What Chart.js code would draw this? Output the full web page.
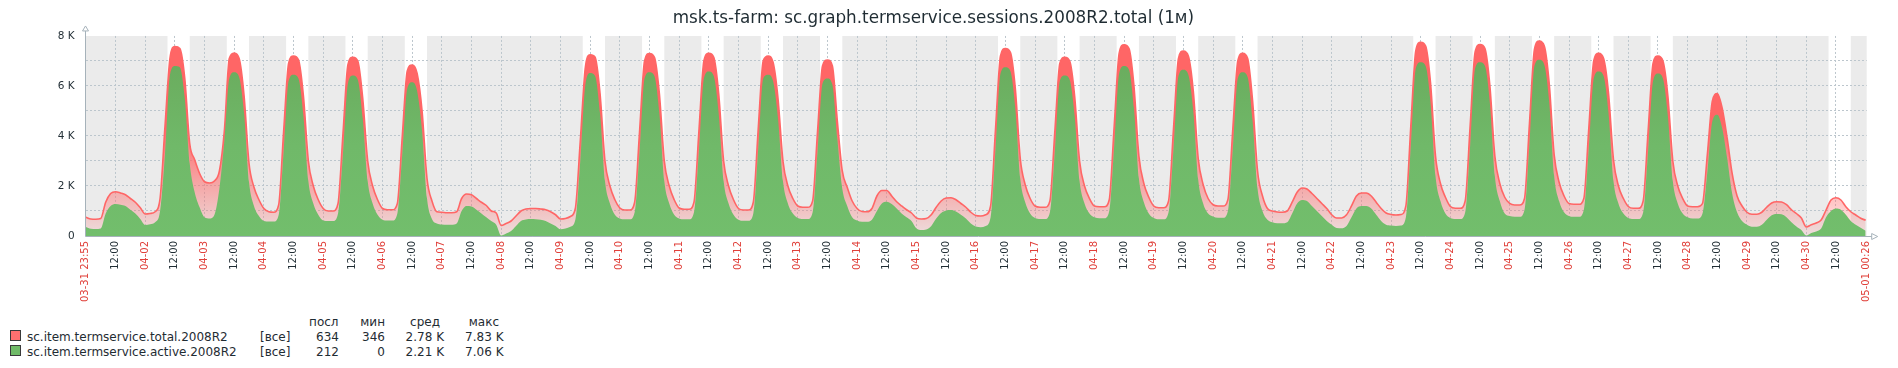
<!DOCTYPE html>
<html>
<head>
<meta charset="utf-8">
<script src="https://cdn.jsdelivr.net/npm/chart.js@4.4.1/dist/chart.umd.min.js"></script>
<style>
  html, body { margin: 0; padding: 0; background: #fff; }
  #wrap { position: relative; width: 1898px; height: 368px; overflow: hidden;
          font-family: "DejaVu Sans", sans-serif; color: #1f2c33; }
  #chart { position: absolute; left: 0; top: 0; }
  .lg { position: absolute; font-size: 12px; line-height: 14px; white-space: nowrap; }
  .sw { position: absolute; width: 9px; height: 9px; border: 1px solid #3a3a3a; }
</style>
</head>
<body>
<div id="wrap">
  <canvas id="chart" width="1898" height="312"></canvas>
  <div id="legend"></div>
</div>
<script>
// time axis: hours from 04-01 00:00, one value every 2 hours
const startHour = -5 / 60;          // 03-31 23:55
const endHour = 720 + 26 / 60;      // 05-01 00:26
const slotHours = [0, 2, 4, 6, 8, 10, 12, 14, 16, 18, 20, 22];
const dayLabels = ['04-01', '04-02', '04-03', '04-04', '04-05', '04-06', '04-07', '04-08', '04-09', '04-10',
                   '04-11', '04-12', '04-13', '04-14', '04-15', '04-16', '04-17', '04-18', '04-19', '04-20',
                   '04-21', '04-22', '04-23', '04-24', '04-25', '04-26', '04-27', '04-28', '04-29', '04-30'];
const startLabel = '03-31 23:55';
const endLabel = '05-01 00:26';
const workDays = ['04-02', '04-03', '04-04', '04-05', '04-06', '04-09', '04-10', '04-11', '04-12', '04-13',
                  '04-16', '04-17', '04-18', '04-19', '04-20', '04-23', '04-24', '04-25', '04-26', '04-27', '04-30'];
const workStart = 9, workEnd = 18;

// sessions, thousands (one row per day, 00:00 .. 22:00)
const totalSessions = [
  .75, .68, .67, .70, 1.35, 1.70, 1.77, 1.72, 1.65, 1.50, 1.35, 1.13,
  .88, .90, .97, 1.50, 4.40, 7.10, 7.58, 7.50, 6.30, 3.70, 3.05, 2.50,
  2.17, 2.12, 2.20, 2.60, 4.20, 7.10, 7.32, 7.10, 5.60, 2.90, 1.95, 1.45,
  1.10, .97, .95, 1.25, 4.20, 6.90, 7.20, 7.05, 5.60, 3.00, 2.00, 1.45,
  1.10, 1.00, 1.00, 1.30, 4.10, 6.85, 7.15, 7.00, 5.50, 3.00, 2.00, 1.45,
  1.10, 1.05, 1.05, 1.30, 4.00, 6.60, 6.84, 6.50, 5.00, 2.30, 1.40, .97,
  .95, .93, .93, .97, 1.50, 1.68, 1.65, 1.50, 1.35, 1.22, 1.00, .92,
  .42, .50, .60, .80, 1.00, 1.08, 1.10, 1.10, 1.08, 1.05, .97, .85,
  .68, .70, .78, 1.10, 3.80, 6.70, 7.25, 7.15, 5.70, 3.00, 2.00, 1.45,
  1.12, 1.04, 1.04, 1.35, 4.20, 7.00, 7.30, 7.15, 5.70, 3.00, 2.00, 1.45,
  1.12, 1.07, 1.07, 1.35, 4.20, 7.00, 7.31, 7.15, 5.70, 3.00, 2.00, 1.45,
  1.10, 1.04, 1.04, 1.35, 4.30, 7.00, 7.20, 6.95, 5.50, 3.00, 2.00, 1.50,
  1.20, 1.15, 1.15, 1.40, 4.20, 6.80, 7.04, 6.80, 4.60, 2.60, 1.95, 1.40,
  1.10, .98, .97, 1.10, 1.60, 1.82, 1.82, 1.60, 1.37, 1.20, 1.05, .92,
  .72, .68, .70, .85, 1.15, 1.40, 1.52, 1.53, 1.45, 1.30, 1.15, .95,
  .82, .80, .85, 1.20, 4.30, 7.20, 7.50, 7.35, 5.90, 3.10, 2.05, 1.50,
  1.20, 1.15, 1.15, 1.40, 4.20, 6.90, 7.15, 7.00, 5.60, 3.00, 2.00, 1.50,
  1.20, 1.17, 1.17, 1.45, 4.40, 7.30, 7.65, 7.50, 6.00, 3.20, 2.10, 1.55,
  1.20, 1.13, 1.13, 1.40, 4.30, 7.10, 7.40, 7.20, 5.80, 3.10, 2.05, 1.50,
  1.25, 1.20, 1.20, 1.45, 4.30, 7.00, 7.31, 7.10, 5.40, 2.60, 1.60, 1.10,
  1.00, .96, .95, 1.00, 1.35, 1.75, 1.92, 1.88, 1.70, 1.50, 1.30, 1.10,
  .85, .72, .72, .85, 1.20, 1.60, 1.72, 1.72, 1.60, 1.35, 1.10, .92,
  .86, .84, .86, 1.20, 4.40, 7.40, 7.75, 7.60, 6.10, 3.20, 2.10, 1.55,
  1.18, 1.11, 1.11, 1.40, 4.40, 7.35, 7.66, 7.50, 6.00, 3.20, 2.10, 1.55,
  1.30, 1.24, 1.24, 1.50, 4.50, 7.45, 7.80, 7.60, 6.10, 3.25, 2.15, 1.60,
  1.30, 1.27, 1.27, 1.50, 4.30, 7.00, 7.31, 7.10, 5.70, 3.05, 2.00, 1.50,
  1.18, 1.11, 1.11, 1.40, 4.20, 6.90, 7.20, 7.00, 5.60, 3.00, 2.00, 1.50,
  1.20, 1.17, 1.17, 1.30, 3.30, 5.40, 5.70, 5.10, 3.90, 2.50, 1.60, 1.20,
  .95, .87, .87, .95, 1.15, 1.32, 1.37, 1.36, 1.25, 1.05, .90, .72,
  .36, .45, .52, .64, 1.04, 1.44, 1.53, 1.44, 1.17, .97, .84, .71,
  .63
];
const activeSessions = [
  .36, .29, .28, .30, .90, 1.20, 1.28, 1.25, 1.20, 1.05, .90, .68,
  .44, .47, .55, 1.00, 3.30, 6.45, 6.80, 6.75, 5.50, 2.90, 1.75, 1.15,
  .75, .70, .85, 1.90, 3.80, 6.30, 6.55, 6.35, 4.90, 2.15, 1.20, .80,
  .60, .58, .58, .85, 3.40, 6.20, 6.45, 6.30, 4.80, 2.20, 1.30, .85,
  .62, .60, .60, .90, 3.30, 6.10, 6.42, 6.25, 4.70, 2.20, 1.30, .85,
  .65, .62, .62, .90, 3.30, 5.90, 6.15, 5.80, 4.20, 1.50, .68, .50,
  .46, .45, .45, .50, 1.00, 1.20, 1.18, 1.05, .90, .75, .60, .45,
  .02, .10, .20, .40, .60, .66, .68, .67, .65, .60, .50, .40,
  .27, .30, .37, .65, 3.00, 6.00, 6.52, 6.40, 4.90, 2.20, 1.30, .85,
  .70, .67, .67, .95, 3.40, 6.30, 6.55, 6.40, 4.90, 2.20, 1.30, .85,
  .70, .67, .67, .95, 3.40, 6.30, 6.58, 6.40, 4.90, 2.20, 1.30, .85,
  .65, .61, .61, .90, 3.50, 6.30, 6.45, 6.20, 4.70, 2.20, 1.30, .90,
  .72, .68, .68, .95, 3.40, 6.10, 6.30, 6.05, 3.90, 1.90, 1.20, .75,
  .62, .57, .57, .65, 1.00, 1.30, 1.37, 1.28, 1.10, .90, .75, .60,
  .30, .24, .26, .40, .70, .92, 1.02, 1.04, .98, .85, .70, .50,
  .38, .35, .40, .75, 3.50, 6.50, 6.75, 6.60, 5.10, 2.30, 1.35, .90,
  .72, .68, .68, .95, 3.40, 6.20, 6.42, 6.25, 4.80, 2.20, 1.30, .90,
  .75, .71, .71, 1.00, 3.60, 6.50, 6.80, 6.65, 5.10, 2.30, 1.35, .90,
  .72, .67, .67, .95, 3.50, 6.40, 6.65, 6.45, 5.00, 2.25, 1.30, .90,
  .78, .73, .73, 1.00, 3.50, 6.30, 6.55, 6.35, 4.60, 1.90, 1.00, .65,
  .55, .51, .51, .55, .90, 1.30, 1.44, 1.40, 1.20, 1.00, .80, .60,
  .45, .32, .31, .40, .75, 1.10, 1.20, 1.20, 1.10, .85, .60, .45,
  .42, .40, .42, .75, 3.60, 6.70, 6.95, 6.80, 5.30, 2.40, 1.40, .90,
  .72, .68, .68, .95, 3.60, 6.70, 6.95, 6.80, 5.30, 2.40, 1.40, .90,
  .80, .77, .77, 1.05, 3.70, 6.80, 7.05, 6.85, 5.35, 2.40, 1.40, .95,
  .80, .77, .77, 1.05, 3.50, 6.30, 6.58, 6.40, 4.90, 2.20, 1.30, .90,
  .72, .68, .68, .95, 3.40, 6.20, 6.50, 6.30, 4.80, 2.20, 1.30, .90,
  .75, .70, .70, .90, 2.60, 4.60, 4.85, 4.30, 3.10, 1.70, .95, .60,
  .45, .37, .37, .45, .65, .83, .88, .87, .75, .55, .38, .24,
  .02, .12, .18, .30, .75, 1.00, 1.10, 1.05, .85, .60, .45, .33,
  .21
];

// legend table
const legendNames = ['sc.item.termservice.total.2008R2', 'sc.item.termservice.active.2008R2'];
const legendColors = ['#ff7070', '#70bb68'];
const legendHeader = ['посл', 'мин', 'сред', 'макс'];
const legendLast = ['634', '212'];
const legendMin = ['346', '0'];
const legendAvg = ['2.78 K', '2.21 K'];
const legendMax = ['7.83 K', '7.06 K'];

const title = 'msk.ts-farm: sc.graph.termservice.sessions.2008R2.total (1м)';
const FONT = '"DejaVu Sans", sans-serif';
const AXIS = '#a6b2ba';
const GRID = '#bcc6cd';

// time grid and ticks
const hours = [];
dayLabels.forEach((d, i) => slotHours.forEach(s => hours.push(i * 24 + s)));
hours.push(dayLabels.length * 24);

const tickValues = [startHour];
const tickText = [startLabel];
dayLabels.forEach((d, i) => {
  if (i > 0) { tickValues.push(i * 24); tickText.push(d); }
  tickValues.push(i * 24 + 12); tickText.push('12:00');
});
tickValues.push(endHour); tickText.push(endLabel);

const toPoints = arr => arr.map((v, i) => ({ x: hours[i], y: v }));

let redGrad = null, greenGrad = null;
function redFill(ctx) {
  const a = ctx.chart.chartArea;
  if (!a) return null;
  if (!redGrad) {
    redGrad = ctx.chart.ctx.createLinearGradient(0, a.bottom, 0, a.top);
    redGrad.addColorStop(0, 'rgba(255,102,102,0.10)');
    redGrad.addColorStop(0.56, 'rgba(255,102,102,1)');
    redGrad.addColorStop(1, 'rgba(255,102,102,1)');
  }
  return redGrad;
}
function greenFill(ctx) {
  const a = ctx.chart.chartArea;
  if (!a) return null;
  if (!greenGrad) {
    greenGrad = ctx.chart.ctx.createLinearGradient(0, a.bottom, 0, a.top);
    greenGrad.addColorStop(0, '#72be6c');
    greenGrad.addColorStop(0.45, '#70b969');
    greenGrad.addColorStop(0.9, '#6aab5d');
    greenGrad.addColorStop(1, '#6aab5d');
  }
  return greenGrad;
}

const backdrop = {
  id: 'backdrop',
  beforeDraw(chart) {
    const { ctx, chartArea: a, scales: { x } } = chart;
    ctx.save();
    ctx.fillStyle = '#ebebeb';
    ctx.fillRect(a.left, a.top, a.right - a.left, a.bottom - a.top);
    ctx.fillStyle = '#ffffff';
    workDays.forEach(d => {
      const day = dayLabels.indexOf(d);
      const x1 = x.getPixelForValue(day * 24 + workStart);
      const x2 = x.getPixelForValue(day * 24 + workEnd);
      ctx.fillRect(x1, a.top, x2 - x1, a.bottom - a.top);
    });
    ctx.restore();
  },
  afterDraw(chart) {
    const { ctx, chartArea: a } = chart;
    const l = Math.floor(a.left) + 0.5, b = Math.round(a.bottom) + 0.5;
    ctx.save();
    ctx.strokeStyle = AXIS;
    ctx.lineWidth = 1;
    ctx.beginPath();
    ctx.moveTo(l, a.top - 5); ctx.lineTo(l, b);
    ctx.lineTo(a.right + 5, b);
    ctx.stroke();
    // arrow heads
    ctx.fillStyle = '#fff';
    ctx.beginPath();
    ctx.moveTo(l - 3, a.top - 5); ctx.lineTo(l + 3, a.top - 5); ctx.lineTo(l, a.top - 10); ctx.closePath();
    ctx.fill(); ctx.stroke();
    ctx.beginPath();
    ctx.moveTo(a.right + 5, b - 3); ctx.lineTo(a.right + 5, b + 3); ctx.lineTo(a.right + 11, b); ctx.closePath();
    ctx.fill(); ctx.stroke();
    ctx.restore();
  }
};

new Chart(document.getElementById('chart'), {
  type: 'line',
  data: {
    datasets: [
      {
        label: legendNames[0],
        data: toPoints(totalSessions),
        borderColor: '#ff6666',
        borderWidth: 1.6,
        backgroundColor: redFill,
        fill: 'origin',
        pointRadius: 0,
        cubicInterpolationMode: 'monotone',
        order: 2
      },
      {
        label: legendNames[1],
        data: toPoints(activeSessions),
        borderWidth: 0,
        borderColor: 'rgba(0,0,0,0)',
        backgroundColor: greenFill,
        fill: 'origin',
        pointRadius: 0,
        cubicInterpolationMode: 'monotone',
        order: 1
      }
    ]
  },
  options: {
    responsive: false,
    animation: false,
    events: [],
    layout: { padding: { left: 0, right: 31.3, top: 0, bottom: 0 } },
    plugins: {
      legend: { display: false },
      tooltip: { enabled: false },
      title: {
        display: true,
        text: title,
        color: '#1f2c33',
        font: { family: FONT, size: 16.8, weight: 'normal' },
        padding: { top: 8.5, bottom: 7.3 }
      }
    },
    scales: {
      x: {
        type: 'linear',
        min: startHour,
        max: endHour,
        afterBuildTicks: axis => { axis.ticks = tickValues.map(v => ({ value: v })); },
        afterFit: axis => { axis.height = 76; },
        border: { display: false, dash: [2, 2] },
        grid: {
          drawTicks: false,
          color: c => (c.index === 0 || c.index === tickValues.length - 1) ? 'rgba(0,0,0,0)' : GRID
        },
        ticks: {
          autoSkip: false,
          minRotation: 90,
          maxRotation: 90,
          padding: 5,
          font: { family: FONT, size: 10 },
          color: c => (c.index % 2 === 0) ? '#e0403a' : '#1f2c33',
          callback: (v, i) => tickText[i]
        }
      },
      y: {
        min: 0,
        max: 8,
        afterFit: axis => { axis.width = 85.7; },
        border: { display: false, dash: [2, 2] },
        grid: {
          drawTicks: false,
          color: c => (c.tick && (c.tick.value === 0 || c.tick.value === 8)) ? 'rgba(0,0,0,0)' : GRID
        },
        ticks: {
          stepSize: 1,
          padding: 11,
          font: { family: FONT, size: 10.5 },
          color: '#1f2c33',
          callback: v => v % 2 === 0 ? (v === 0 ? '0' : v + ' K') : ''
        }
      }
    }
  },
  plugins: [backdrop]
});

// legend below the chart
const legend = document.getElementById('legend');
function addText(text, left, top, right) {
  const el = document.createElement('div');
  el.className = 'lg';
  el.textContent = text;
  el.style.top = top + 'px';
  if (right !== undefined) {
    el.style.left = (right - 100) + 'px';
    el.style.width = '100px';
    el.style.textAlign = 'right';
  } else {
    el.style.left = left + 'px';
  }
  legend.appendChild(el);
}
const colRight = [339, 385, 444, 503.5];
const headRight = [338.5, 385, 440, 499];
legendHeader.forEach((h, i) => addText(h, 0, 315, headRight[i]));
legendNames.forEach((name, r) => {
  const top = 330 + r * 15;
  const sw = document.createElement('div');
  sw.className = 'sw';
  sw.style.left = '10px';
  sw.style.top = top + 'px';
  sw.style.background = legendColors[r];
  legend.appendChild(sw);
  addText(name, 27, top);
  addText('[все]', 260, top);
  [legendLast, legendMin, legendAvg, legendMax].forEach((col, c) => addText(col[r], 0, top, colRight[c]));
});
</script>
</body>
</html>
